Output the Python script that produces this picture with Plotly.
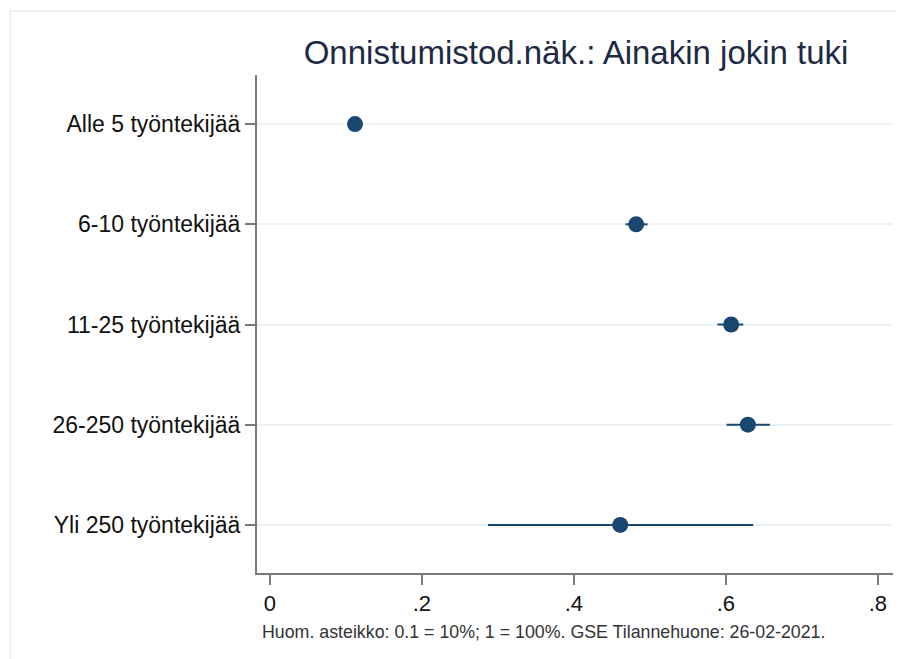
import plotly.graph_objects as go

# Data
categories = ["Alle 5 työntekijää", "6-10 työntekijää", "11-25 työntekijää",
              "26-250 työntekijää", "Yli 250 työntekijää"]
estimate = [0.112, 0.482, 0.607, 0.629, 0.461]
ci_low = [0.106, 0.468, 0.589, 0.601, 0.287]
ci_high = [0.118, 0.497, 0.623, 0.658, 0.636]
x_ticks = [0, 0.2, 0.4, 0.6, 0.8]
x_tick_labels = ["0", ".2", ".4", ".6", ".8"]

navy = "#1a476f"
rows = list(range(len(categories)))

fig = go.Figure()

fig.add_trace(
    go.Scatter(
        x=estimate,
        y=rows,
        mode="markers",
        marker=dict(color=navy, size=16),
        error_x=dict(
            type="data",
            symmetric=False,
            array=[h - e for h, e in zip(ci_high, estimate)],
            arrayminus=[e - l for e, l in zip(estimate, ci_low)],
            color=navy,
            thickness=2,
            width=0,
        ),
        showlegend=False,
    )
)

# page body has an 8px margin, so the figure is a bit smaller than the window
fig.update_layout(
    width=896,
    height=651,
    margin=dict(l=249, r=11, t=67, b=86),
    paper_bgcolor="white",
    plot_bgcolor="white",
    font=dict(family="Liberation Sans, Arial, sans-serif", color="#111111"),
    title=dict(
        text="Onnistumistod.näk.: Ainakin jokin tuki",
        x=0.634, xanchor="center",
        y=0.932, yanchor="middle",
        font=dict(size=33, color="#1e2a44"),
    ),
)

fig.update_xaxes(
    range=[-0.017, 0.82],
    tickvals=x_ticks,
    ticktext=x_tick_labels,
    showgrid=False,
    zeroline=False,
    showline=True,
    linecolor="#7a7a7a",
    linewidth=2,
    ticks="outside",
    ticklen=10,
    tickwidth=1.5,
    tickcolor="#7a7a7a",
    tickfont=dict(size=22, color="#111111"),
)

fig.update_yaxes(
    range=[4.48, -0.49],
    tickvals=rows,
    ticktext=categories,
    showgrid=True,
    gridcolor="#eaf2f3",
    gridwidth=2,
    zeroline=False,
    showline=True,
    linecolor="#7a7a7a",
    linewidth=2,
    ticks="outside",
    ticklen=10,
    tickwidth=1.5,
    tickcolor="#7a7a7a",
    tickfont=dict(size=23, color="#111111"),
)

# outer graph frame (light bluish)
fig.add_shape(
    type="rect", xref="paper", yref="paper",
    x0=-0.388, x1=1.5, y0=-0.5, y1=1.1285,
    line=dict(color="#eaf2f3", width=2),
    layer="below",
)

fig.add_annotation(
    text="Huom. asteikko: 0.1 = 10%; 1 = 100%. GSE Tilannehuone: 26-02-2021.",
    xref="paper", yref="paper",
    x=0.005, y=-0.1185,
    xanchor="left", yanchor="middle",
    showarrow=False,
    font=dict(size=17.8, color="#333333"),
)

fig.write_html("out.html")
